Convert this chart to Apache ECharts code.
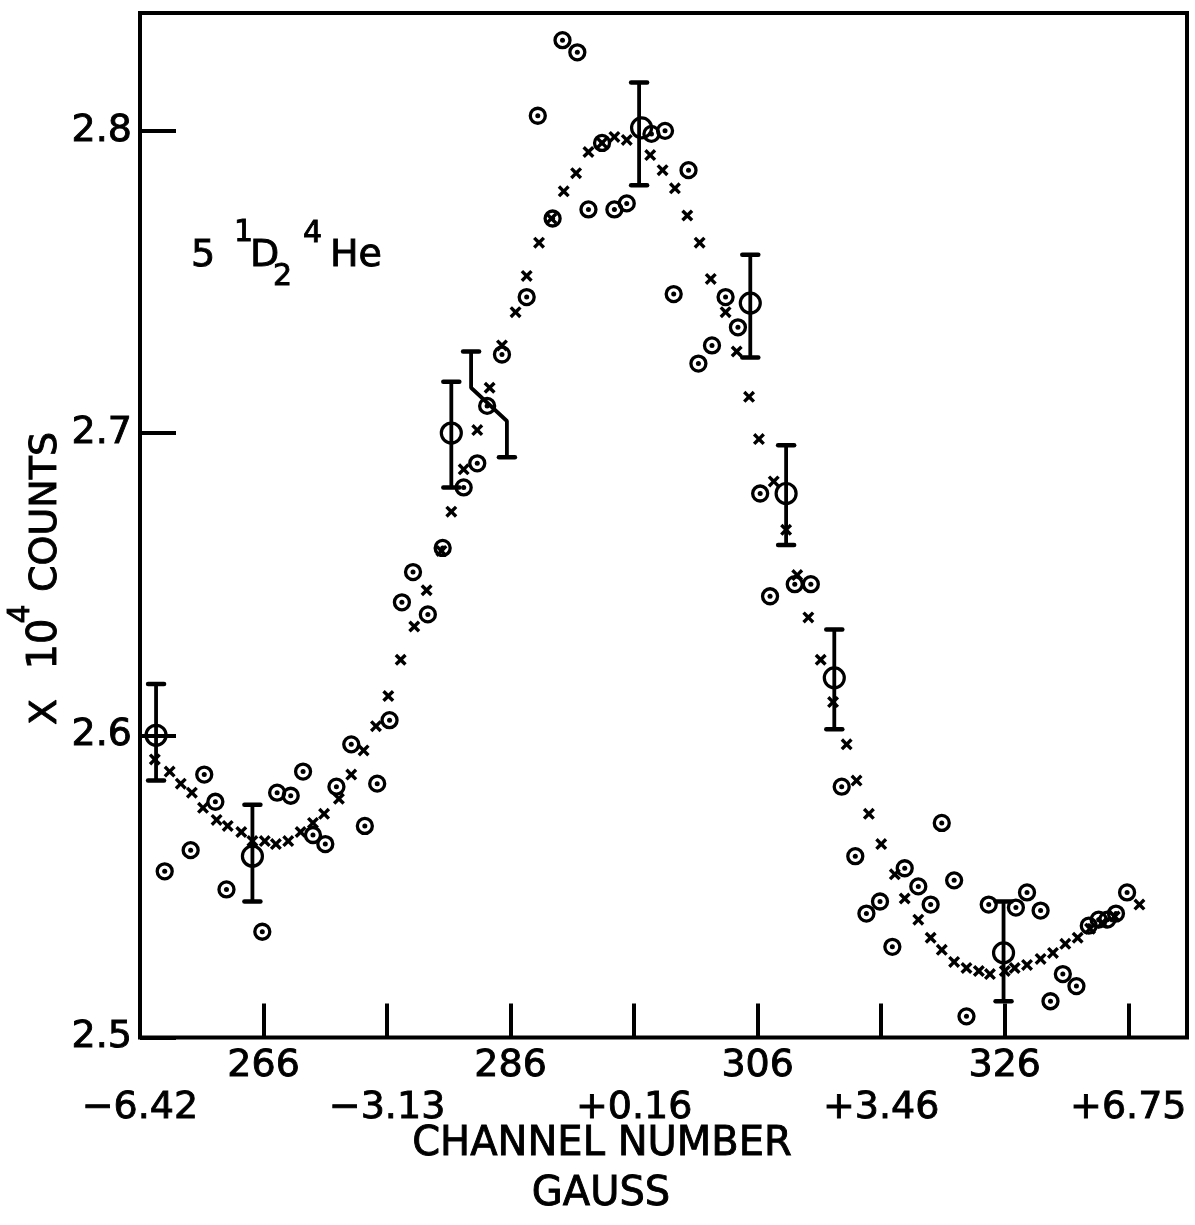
<!DOCTYPE html>
<html><head><meta charset="utf-8">
<script src="https://cdn.jsdelivr.net/npm/echarts@6/dist/echarts.min.js"></script>
<style>html,body{margin:0;padding:0;background:#fff}#c{width:1195px;height:1225px}</style>
</head><body><div id="c"></div>
<script>
// ---- tick / label values ----
const channelTicks = [266, 276, 286, 296, 306, 316, 326, 336];
const channelLabels = [266, 286, 306, 326];
const gaussPositions = [256, 276, 296, 316, 336];
const gaussLabels = ['\u22126.42', '\u22123.13', '+0.16', '+3.46', '+6.75'];
const yTicks = [2.5, 2.6, 2.7, 2.8];

// ---- measured data (channel, x10^4 counts) : circled points ----
const dataPoints = [
  [258.0,2.555],[260.1,2.562],[261.2,2.587],[262.1,2.578],[263.0,2.549],[265.9,2.535],
  [267.1,2.581],[268.2,2.580],[269.2,2.588],[270.0,2.567],[271.0,2.564],[271.9,2.583],
  [273.1,2.597],[274.2,2.570],[275.2,2.584],[276.2,2.605],[277.2,2.644],[278.1,2.654],
  [279.3,2.640],[280.5,2.662],[282.2,2.682],[283.3,2.690],[284.1,2.709],[285.3,2.726],
  [287.3,2.745],[288.2,2.805],[289.4,2.771],[290.2,2.830],[291.4,2.826],[292.3,2.774],
  [293.4,2.796],[294.4,2.774],[295.4,2.776],[297.4,2.799],[298.5,2.800],[299.2,2.746],
  [300.4,2.787],[301.2,2.723],[302.3,2.729],[303.4,2.745],[304.4,2.735],[306.2,2.680],
  [307.0,2.646],[309.0,2.650],[310.3,2.650],[312.8,2.583],[313.9,2.560],[314.8,2.541],
  [315.9,2.545],[316.9,2.530],[317.9,2.556],[319.0,2.550],[320.0,2.544],[320.9,2.571],
  [321.9,2.552],[322.9,2.507],[324.7,2.544],[326.9,2.543],[327.8,2.548],[328.9,2.542],
  [329.7,2.512],[330.7,2.521],[331.8,2.517],[332.8,2.537],[333.6,2.539],[334.3,2.539],
  [335.0,2.541],[335.9,2.548]
];

// ---- fitted curve (x marks) ----
const fitPoints = [
  [257.2,2.592],[258.4,2.588],[259.3,2.584],[260.2,2.581],[261.1,2.576],[262.2,2.572],
  [263.1,2.570],[264.2,2.568],[265.1,2.565],[266.1,2.565],[267.0,2.564],[268.0,2.565],
  [269.0,2.568],[270.0,2.571],[270.9,2.574],[272.1,2.579],[273.1,2.587],[274.1,2.595],
  [275.1,2.603],[276.1,2.613],[277.1,2.625],[278.2,2.636],[279.2,2.648],[280.4,2.661],
  [281.2,2.674],[282.2,2.688],[283.3,2.701],[284.3,2.715],[285.3,2.729],[286.4,2.740],
  [287.3,2.752],[288.3,2.763],[289.3,2.771],[290.3,2.780],[291.3,2.786],[292.3,2.793],
  [293.4,2.796],[294.4,2.798],[295.4,2.797],[297.3,2.792],[298.3,2.787],[299.3,2.781],
  [300.3,2.772],[301.3,2.763],[302.2,2.751],[303.4,2.740],[304.3,2.727],[305.3,2.712],
  [306.1,2.698],[307.3,2.684],[308.3,2.668],[309.2,2.653],[310.1,2.639],[311.1,2.625],
  [312.1,2.611],[313.2,2.597],[314.0,2.585],[315.0,2.574],[316.0,2.564],[317.1,2.554],
  [317.9,2.546],[319.0,2.539],[320.0,2.533],[320.9,2.529],[321.9,2.525],[322.9,2.523],
  [323.9,2.522],[324.8,2.521],[326.0,2.522],[326.8,2.523],[327.8,2.524],[328.9,2.526],
  [329.9,2.528],[330.9,2.531],[331.9,2.533],[332.9,2.536],[333.9,2.538],[334.9,2.540],
  [336.9,2.544]
];

// ---- error bars: centre points and [channel, low, high] ----
const errorBarCenters = [
  [257.3,2.600],[265.1,2.560],[281.2,2.700],[296.6,2.801],[305.4,2.743],[308.3,2.680],[312.2,2.619],[325.9,2.528]
];
const errorBars = [
  [257.3,2.585,2.617],[265.1,2.545,2.577],[281.2,2.682,2.717],[296.4,2.782,2.816],
  [305.4,2.725,2.759],[308.3,2.663,2.696],[312.2,2.602,2.635],[325.9,2.512,2.545]
];
// the bent (offset) error bar
const bentBar = [[282.8,2.727],[282.8,2.715],[285.7,2.704],[285.7,2.692]];
const bentBarCaps = [bentBar[0], bentBar[bentBar.length - 1]];

const FONT = 'DejaVu Sans';
const chart = echarts.init(document.getElementById('c'), null, {renderer: 'canvas'});

const capHalf = 8;
function capLine(x, y) {
  return {type: 'line', shape: {x1: x - capHalf, y1: y, x2: x + capHalf, y2: y},
    style: {stroke: '#000', lineWidth: 4.5, lineCap: 'round'}};
}

const xSym = 'path://M0,2L2,0L5,3L8,0L10,2L7,5L10,8L8,10L5,7L2,10L0,8L3,5Z';
function txt(x, y, text, size, align, rot) {
  return {
    type: 'text', x: x, y: y, rotation: rot || 0,
    style: {text: text, font: size + 'px "DejaVu Sans"', fill: '#000', stroke: '#000', lineWidth: 0.9,
      textAlign: align || 'left', textVerticalAlign: 'middle'}
  };
}
const lbl = {color: '#000', fontFamily: FONT, fontSize: 38, textBorderColor: '#000', textBorderWidth: 0.9};

chart.setOption({
  animation: false,
  backgroundColor: '#fff',
  grid: {left: 140, top: 13, width: 1047, height: 1024.5, show: true,
    borderColor: '#000', borderWidth: 4, backgroundColor: 'transparent', outerBoundsMode: 'none'},
  xAxis: [{
    type: 'value', min: 256, max: 340.75, position: 'bottom',
    axisLine: {show: false}, splitLine: {show: false},
    axisTick: {show: true, inside: true, length: 34, customValues: channelTicks,
      lineStyle: {color: '#000', width: 4}},
    axisLabel: Object.assign({customValues: channelLabels, margin: 10, formatter: v => String(v)}, lbl)
  }, {
    type: 'value', min: 256, max: 340.75, position: 'bottom',
    axisLine: {show: false}, splitLine: {show: false}, axisTick: {show: false},
    axisLabel: Object.assign({customValues: gaussPositions, margin: 52,
      showMinLabel: true, showMaxLabel: true,
      formatter: v => { const i = gaussPositions.indexOf(v); return i >= 0 ? gaussLabels[i] : ''; }}, lbl)
  }],
  yAxis: {
    type: 'value', min: 2.5, max: 2.839,
    axisLine: {show: false}, splitLine: {show: false},
    axisTick: {show: true, inside: true, length: 36, customValues: yTicks,
      lineStyle: {color: '#000', width: 4}},
    axisLabel: Object.assign({customValues: yTicks, margin: 8, formatter: v => v.toFixed(1)}, lbl)
  },
  series: [
    {
      type: 'custom', name: 'errorbars', data: errorBars, encode: {x: 0, y: [1, 2]}, z: 3,
      renderItem: (params, api) => {
        const x = api.value(0), lo = api.value(1), hi = api.value(2);
        const a = api.coord([x, hi]), b = api.coord([x, lo]);
        return {type: 'group', children: [
          {type: 'line', shape: {x1: a[0], y1: a[1], x2: b[0], y2: b[1]}, style: {stroke: '#000', lineWidth: 3.8}},
          capLine(a[0], a[1]), capLine(b[0], b[1])
        ]};
      }
    },
    {
      type: 'line', name: 'bent', data: bentBar, symbol: 'none', z: 3,
      lineStyle: {color: '#000', width: 3.8, opacity: 1}
    },
    {
      type: 'custom', name: 'bentcaps', data: bentBarCaps, encode: {x: 0, y: 1}, z: 3,
      renderItem: (params, api) => {
        const p = api.coord([api.value(0), api.value(1)]);
        return capLine(p[0], p[1]);
      }
    },
    {
      type: 'scatter', name: 'centers', data: errorBarCenters, symbol: 'circle', symbolSize: 20, z: 4,
      itemStyle: {color: 'rgba(0,0,0,0)', borderColor: '#000', borderWidth: 3.2, opacity: 1}
    },
    {
      type: 'scatter', name: 'fit', data: fitPoints, symbol: xSym, symbolSize: 12, z: 4,
      itemStyle: {color: '#000', opacity: 1}
    },
    {
      type: 'scatter', name: 'data', data: dataPoints, symbol: 'circle', symbolSize: 15, z: 5,
      itemStyle: {color: 'rgba(0,0,0,0)', borderColor: '#000', borderWidth: 3.3, opacity: 1}
    },
    {
      type: 'scatter', name: 'dots', data: dataPoints, symbol: 'circle', symbolSize: 5, z: 5,
      itemStyle: {color: '#000', opacity: 1}
    }
  ],
  graphic: [
    txt(602, 1145, 'CHANNEL NUMBER', 40, 'center'),
    txt(601, 1195, 'GAUSS', 40, 'center'),
    txt(46, 712, 'X', 38, 'center', Math.PI / 2),
    txt(46, 644, '10', 40, 'center', Math.PI / 2),
    txt(21, 614, '4', 30, 'center', Math.PI / 2),
    txt(46, 512, 'COUNTS', 38, 'center', Math.PI / 2),
    txt(191, 256, '5', 38),
    txt(234, 233, '1', 30),
    txt(250, 256, 'D', 38),
    txt(273, 277, '2', 30),
    txt(303, 234, '4', 30),
    txt(330, 256, 'He', 38)
  ]
});
</script></body></html>
